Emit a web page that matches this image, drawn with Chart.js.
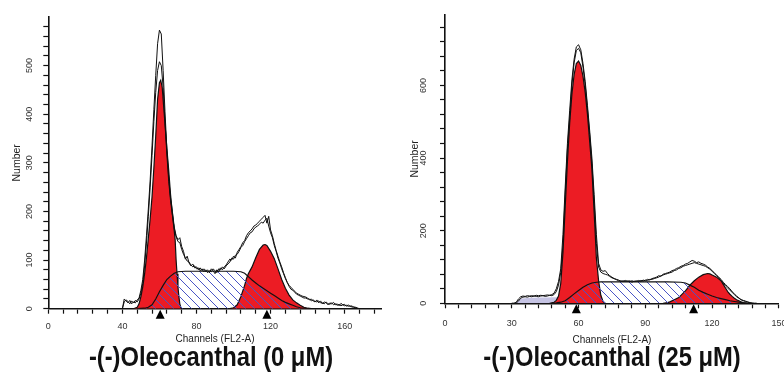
<!DOCTYPE html>
<html>
<head>
<meta charset="utf-8">
<script src="https://cdn.jsdelivr.net/npm/chart.js@4.4.0/dist/chart.umd.min.js"></script>
<style>
  html, body { margin:0; padding:0; background:#fff; width:784px; height:373px; overflow:hidden; }
  .wrap { position:absolute; top:0; height:373px; }
  .ttl { position:absolute; top:342px; height:30px; line-height:30px; text-align:center;
         font-family:'Liberation Sans',Arial,sans-serif;
         font-weight:bold; font-size:27px; color:#111; white-space:nowrap;
         transform:scaleX(0.88); transform-origin:50% 50%; }
</style>
</head>
<body>
<div class="wrap" style="left:0;width:392px;"><canvas id="cL" width="392" height="373"></canvas></div>
<div class="wrap" style="left:392px;width:404px;"><canvas id="cR" width="404" height="373"></canvas></div>
<div class="ttl" style="left:0;width:422px;">-(-)Oleocanthal (0 μM)</div>
<div class="ttl" style="left:392px;width:440px;">-(-)Oleocanthal (25 μM)</div>
<script>
// ---------------- LEFT PANEL: 0 µM ----------------
const leftChannels = [38,39,40,41,42,43,44,45,46,47,48,49,50,51,52,53,54,55,56,57,58,59,60,61,62,63,64,65,66,67,68,69,70,71,72,73,74,75,76,77,78,79,80,81,82,83,84,85,86,87,88,89,90,91,92,93,94,95,96,97,98,99,100,101,102,103,104,105,106,107,108,109,110,111,112,113,114,115,116,117,118,119,120,121,122,123,124,125,126,127,128,129,130,131,132,133,134,135,136,137,138,139,140,141,142,143,144,145,146,147,148,149,150,151,152,153,154,155,156,157,158,159,160,161,162,163,164,165,166,167,168,169,170];
const leftData = [
  0,0,0,20,16,12,17,10,14,12,
  18,22,38,60,100,150,205,265,335,410,
  480,545,573,565,490,405,330,270,228,200,
  168,150,142,146,128,118,102,108,94,88,
  92,84,86,80,84,78,82,76,80,74,
  82,78,72,80,76,84,80,86,90,96,
  102,100,108,104,116,122,128,136,140,150,
  156,160,164,170,172,176,180,184,188,192,
  176,190,162,150,134,120,108,96,86,74,
  64,54,48,44,40,36,32,30,28,26,
  25,24,22,18,20,16,14,18,12,16,
  10,14,12,8,12,10,13,8,10,6,
  11,8,9,5,8,4,6,2,3,1,
  0,0,0];
const leftFit = [
  0,0,0,14,18,15,10,16,12,17,
  14,20,32,52,88,135,190,250,315,385,
  445,490,508,500,455,385,318,262,222,192,
  165,148,138,136,122,112,104,98,96,90,
  86,88,82,84,78,82,76,80,74,78,
  76,82,78,74,82,80,86,82,88,92,
  96,104,102,110,112,118,126,130,138,144,
  150,156,158,164,168,170,174,178,176,182,
  186,170,156,146,130,118,104,94,82,72,
  62,54,46,40,38,34,30,28,26,24,
  22,22,20,20,16,18,15,14,16,12,
  12,10,14,10,9,12,8,10,7,9,
  6,8,6,7,5,6,3,4,2,1,
  0,0,0];
const leftG1X = [46,48,49,50,51,52,53,54,55,56,57,58,59,60,60.7,61.5,62,63,64,65,66,67,68,68.5,69,69.5,70,70.5,71,71.5,72];
const leftG1Y = [0,3,10,25,45,72,105,145,185,230,290,355,430,465,470,455,430,380,330,285,235,195,160,141,100,72,45,25,10,3,0];
const leftSX = [48,50,52,54,56,58,60,62,64,66,68,70,74,80,90,100,104,106,108,110,112,114,116,118,120,122,124,126,128,130,132,134,136,138,140];
const leftSY = [0,0.5,1,3,8,20,35,48,60,67,73,76,77,77,77,77,76,73,66,59,53,47,42,37,32,27,22,17,13,10,7,4,2,1,0];
const leftG2X = [98,100,102,104,106,107,108,110,112,114,116,117,118,120,122,124,126,128,130,132,134,136,138,140,142];
const leftG2Y = [0,2,8,25,48,62,72,86,105,122,131,132,130,118,103,82,60,42,28,18,12,7,3,1,0];
const leftMarkers = [60.4, 118];
const leftXLabels = [0,40,80,120,160];
const leftYLabels = [0,100,200,300,400,500];

// ---------------- RIGHT PANEL: 25 µM ----------------
const rightChannels = [30,31,32,33,34,35,36,37,38,39,40,41,42,43,44,45,46,47,48,49,50,51,52,53,54,55,56,57,58,59,60,61,62,63,64,65,66,67,68,69,70,71,72,73,74,75,76,77,78,79,80,81,82,83,84,85,86,87,88,89,90,91,92,93,94,95,96,97,98,99,100,101,102,103,104,105,106,107,108,109,110,111,112,113,114,115,116,117,118,119,120,121,122,123,124,125,126,127,128,129,130,131,132,133,134,135,136,137,138,139,140];
const rightData = [
  0,0,3,12,18,20,19,21,20,21,
  20,22,21,22,21,22,23,22,24,28,
  40,60,95,190,320,440,530,615,672,706,
  712,698,660,610,545,475,400,300,190,110,
  92,88,90,82,76,72,68,65,62,62,
  60,63,60,62,58,61,60,63,60,64,
  62,66,64,68,70,72,76,74,80,82,
  84,86,90,92,96,98,102,104,108,110,
  114,118,116,112,114,110,108,105,100,96,
  90,84,78,72,66,58,52,46,40,32,
  26,20,15,10,7,5,3,1,0,0,
  0];
const rightFit = [
  0,0,1,6,14,17,18,17,19,18,
  20,19,18,20,21,19,20,22,21,24,
  32,50,85,160,300,425,510,600,662,696,
  702,690,650,600,535,465,385,280,165,100,
  86,82,80,78,74,70,68,66,64,60,
  62,60,62,60,62,60,62,60,63,61,
  64,63,66,66,68,70,72,76,78,80,
  82,84,86,90,92,96,98,102,104,106,
  108,110,112,110,108,106,104,102,98,94,
  88,82,76,70,62,56,48,42,36,30,
  24,18,14,10,8,6,4,2,1,0,
  0];
const rightDebrisX = [31,32,33,34,36,38,40,42,44,46,48,50,52,54,56,58,60,62,64,66,68,70];
const rightDebrisY = [0,2,10,13,14,15,15,16,16,16,17,17,16,14,12,10,8,6,4,2,1,0];
const rightG1X = [47,49,50,51,52,53,54,55,56,57,58,59,60,61,62,63,64,65,66,67,67.5,68,69,70,71,72];
const rightG1Y = [0,3,8,20,55,140,265,390,495,575,630,660,667,655,625,580,520,445,370,250,190,125,62,22,5,0];
const rightSX = [48,50,52,54,56,58,60,62,64,66,68,70,80,90,100,106,108,110,112,114,116,118,120,122,124,126,128,130,132,134,136];
const rightSY = [0,1,3,7,16,26,35,44,51,56,58,59,59,59,59,58,56,50,44,36,30,25,20,16,13,10,7,5,3,1,0];
const rightG2X = [98,100,101,103,105,106,107,108,109,110,111,112,114,116,118,119,120,122,124,125,126,127,128,129,130,131,132,133,134,135,136];
const rightG2Y = [0,2,4,10,16,22,28,34,42,50,56,62,72,79,82,81,78,72,62,52,42,32,25,19,14,10,7,4,2,1,0];
const rightMarkers = [59, 111.7];
const rightXLabels = [0,30,60,90,120,150];
const rightYLabels = [0,200,400,600];

// ---------------- helpers ----------------
const RED = '#ec1c24';
const LAV = '#c6c4e4';
function pts(xs, ys){ return xs.map((x,i)=>({x:x, y:ys[i]})); }
function hatchPattern(){
  const c = document.createElement('canvas'); c.width = 9; c.height = 9;
  const g = c.getContext('2d');
  g.strokeStyle = '#4a55c6'; g.lineWidth = 1;
  g.beginPath();
  g.moveTo(-1,-1); g.lineTo(10,10);
  g.moveTo(-1,8); g.lineTo(1,10);
  g.moveTo(8,-1); g.lineTo(10,1);
  g.stroke();
  return g.createPattern(c, 'repeat');
}
const markerPlugin = {
  id: 'peakMarkers',
  afterDraw(chart){
    const o = chart.options.plugins.peakMarkers;
    if (!o || !o.values) return;
    const xs = chart.scales.x, a = chart.chartArea, c = chart.ctx;
    c.save(); c.fillStyle = '#000';
    o.values.forEach(v=>{
      const px = xs.getPixelForValue(v);
      c.beginPath();
      c.moveTo(px, a.bottom + 1);
      c.lineTo(px - 4.5, a.bottom + 10);
      c.lineTo(px + 4.5, a.bottom + 10);
      c.closePath(); c.fill();
    });
    c.restore();
  }
};
const tickFont = {family:"'Liberation Sans', Arial, sans-serif", size:9};
const axisFont = {family:"'Liberation Sans', Arial, sans-serif", size:10};

function makeChart(id, cfg){
  const hatch = hatchPattern();
  const ds = [
    {label:'Data', data:pts(cfg.ch, cfg.raw1), borderColor:'#111', borderWidth:1, fill:false, order:1},
    {label:'Fit', data:pts(cfg.ch, cfg.raw2), borderColor:'#111', borderWidth:1, fill:false, order:2},
    {label:'S phase', data:pts(cfg.sX, cfg.sY), borderColor:'#111', borderWidth:1.2, backgroundColor:hatch, fill:'origin', order:3},
    {label:'G2/M', data:pts(cfg.g2X, cfg.g2Y), borderColor:'#111', borderWidth:1.2, backgroundColor:RED, fill:'origin', order:4},
    {label:'G0/G1', data:pts(cfg.g1X, cfg.g1Y), borderColor:'#111', borderWidth:1.2, backgroundColor:RED, fill:'origin', order:5}
  ];
  if (cfg.debX) ds.push({label:'Debris', data:pts(cfg.debX, cfg.debY), borderColor:'rgba(0,0,0,0)', borderWidth:0, backgroundColor:LAV, fill:'origin', order:6});
  return new Chart(document.getElementById(id), {
    type:'line',
    data:{datasets:ds},
    options:{
      responsive:false, animation:false, events:[],
      layout:{padding:cfg.pad},
      elements:{line:{tension:0}, point:{radius:0}},
      plugins:{legend:{display:false}, tooltip:{enabled:false}, title:{display:false},
               peakMarkers:{values:cfg.markers}},
      scales:{
        x:{type:'linear', min:0, max:cfg.xMax,
           afterBuildTicks:s=>{ const t=[]; for(let v=0; v<=cfg.xTickMax; v+=cfg.xStep) t.push({value:v}); s.ticks=t; },
           afterFit:s=>{ s.height = cfg.xH; },
           ticks:{autoSkip:false, includeBounds:false, maxRotation:0, minRotation:0, padding:cfg.xPad, font:tickFont, color:'#333',
                  callback:v=> cfg.xLabels.includes(v) ? String(v) : ''},
           grid:{display:true, drawOnChartArea:false, drawTicks:true, tickLength:5, tickWidth:1.2, tickColor:'#111', color:'#111'},
           border:{display:true, color:'#111', width:1.6},
           title:{display:true, text:'Channels (FL2-A)', font:axisFont, color:'#222', padding:{top:4, bottom:4}}},
        y:{type:'linear', min:0, max:cfg.yMax,
           afterBuildTicks:s=>{ const t=[]; for(let v=0; v<=cfg.yTickMax; v+=cfg.yStep) t.push({value:v}); s.ticks=t; },
           afterFit:s=>{ s.width = cfg.yW; },
           ticks:{autoSkip:false, includeBounds:false, minRotation:90, maxRotation:90, crossAlign:'center', padding:cfg.yPad, font:tickFont, color:'#333',
                  callback:v=> cfg.yLabels.includes(v) ? String(v) : ''},
           grid:{display:true, drawOnChartArea:false, drawTicks:true, tickLength:5, tickWidth:1.2, tickColor:'#111', color:'#111'},
           border:{display:true, color:'#111', width:1.6},
           title:{display:true, text:'Number', font:{family:"'Liberation Sans', Arial, sans-serif", size:10.5}, color:'#222', padding:{top:cfg.yTitlePad, bottom:0}}}
      }
    },
    plugins:[markerPlugin]
  });
}

makeChart('cL', {
  ch:leftChannels, raw1:leftData, raw2:leftFit,
  g1X:leftG1X, g1Y:leftG1Y, sX:leftSX, sY:leftSY, g2X:leftG2X, g2Y:leftG2Y,
  markers:leftMarkers, xLabels:leftXLabels, yLabels:leftYLabels,
  xMax:180, xTickMax:176, xStep:8, yMax:600, yTickMax:580, yStep:20,
  pad:{left:0, right:10.3, top:17, bottom:24}, yW:48.3, xH:40.3, xPad:7, yPad:5.8, yTitlePad:10.7
});
makeChart('cR', {
  ch:rightChannels, raw1:rightData, raw2:rightFit,
  g1X:rightG1X, g1Y:rightG1Y, sX:rightSX, sY:rightSY, g2X:rightG2X, g2Y:rightG2Y,
  debX:rightDebrisX, debY:rightDebrisY,
  markers:rightMarkers, xLabels:rightXLabels, yLabels:rightYLabels,
  xMax:150, xTickMax:150, xStep:6, yMax:795, yTickMax:760, yStep:40,
  pad:{left:0, right:0, top:13.1, bottom:23}, yW:53, xH:46.7, xPad:9.6, yPad:9.2, yTitlePad:16.4
});
</script>
</body>
</html>
